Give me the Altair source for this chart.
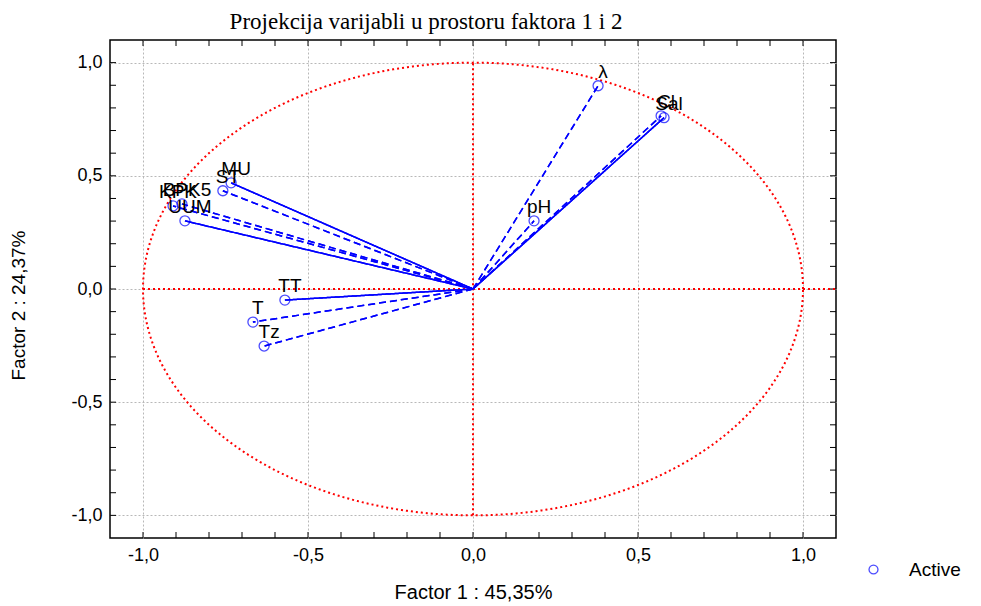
import altair as alt
import numpy as np
import pandas as pd

# ---- data ----
names = ["λ", "Sal", "Cl", "pH", "MU", "ST", "BPK5", "KPK", "UUM", "TT", "T", "Tz"]
factor1 = [0.379, 0.579, 0.570, 0.185, -0.733, -0.758, -0.882, -0.909, -0.873, -0.570, -0.667, -0.633]
factor2 = [0.898, 0.757, 0.765, 0.301, 0.469, 0.434, 0.376, 0.367, 0.301, -0.049, -0.146, -0.252]
line_style = ["dashed", "solid", "dashed", "dashed", "solid", "dashed", "dashed", "dashed", "solid", "solid", "dashed", "dashed"]

title_text = "Projekcija varijabli u prostoru faktora 1 i 2"
x_title = "Factor 1 : 45,35%"
y_title = "Factor 2 : 24,37%"
legend_label = "Active"
major_ticks = [-1.0, -0.5, 0.0, 0.5, 1.0]
minor_ticks = [-1.0, -0.9, -0.8, -0.7, -0.6, -0.5, -0.4, -0.3, -0.2, -0.1, 0.0,
               0.1, 0.2, 0.3, 0.4, 0.5, 0.6, 0.7, 0.8, 0.9, 1.0]

W, H = 726, 498

df = pd.DataFrame({
    "name": names, "f1": factor1, "f2": factor2, "style": line_style,
    "x0": 0.0, "y0": 0.0, "kind": legend_label,
})

# unit correlation circle (geometric reference)
t = np.linspace(0, 2 * np.pi, 721)
circle = pd.DataFrame({"cx": np.cos(t), "cy": np.sin(t), "i": np.arange(len(t))})
hline = pd.DataFrame({"x": [-1.0], "x2": [1.1], "y": [0.0]})
vline = pd.DataFrame({"x": [0.0], "y": [-1.0], "y2": [1.0]})
ticks_df = pd.DataFrame({"v": minor_ticks})

FONT = "Liberation Sans"
xs = alt.Scale(domain=[-1.1, 1.1], nice=False, zero=False)
ys = alt.Scale(domain=[-1.1, 1.1], nice=False, zero=False)
lab = "replace(replace(format(datum.value, '.1f'), '.', ','), '\u2212', '-')"

x_axis = alt.Axis(values=major_ticks, labelExpr=lab, title=x_title, grid=True, ticks=False,
                  domain=False, labelFont=FONT, labelFontSize=18, labelPadding=8,
                  labelColor="black", titleFont=FONT, titleFontSize=20,
                  titleFontWeight="normal", titleColor="black", titlePadding=18,
                  gridColor="#b8b8b8", gridDash=[2, 2], gridWidth=1)
y_axis = alt.Axis(values=major_ticks, labelExpr=lab, title=y_title, grid=True, ticks=False,
                  domain=False, labelFont=FONT, labelFontSize=18, labelPadding=8,
                  labelColor="black", titleFont=FONT, titleFontSize=19,
                  titleFontWeight="normal", titleColor="black", titlePadding=42,
                  titleY=265,
                  gridColor="#b8b8b8", gridDash=[2, 2], gridWidth=1)

vectors = alt.Chart(df).mark_rule(color="#0000ff", strokeWidth=1.5).encode(
    x=alt.X("x0:Q", scale=xs, axis=x_axis),
    x2="f1:Q",
    y=alt.Y("y0:Q", scale=ys, axis=y_axis),
    y2="f2:Q",
    strokeDash=alt.StrokeDash("style:N", scale=alt.Scale(domain=["solid", "dashed"],
                              range=[[1, 0], [7, 4]]), legend=None),
)

# inward tick marks on all four sides of the frame
tick_base = alt.Chart(ticks_df).mark_rule(color="black", strokeWidth=1)
ticks_top = tick_base.encode(x=alt.X("v:Q", scale=xs), y=alt.value(0), y2=alt.value(6))
ticks_bottom = tick_base.encode(x=alt.X("v:Q", scale=xs), y=alt.value(H - 6), y2=alt.value(H))
ticks_left = tick_base.encode(y=alt.Y("v:Q", scale=ys), x=alt.value(0), x2=alt.value(6))
ticks_right = tick_base.encode(y=alt.Y("v:Q", scale=ys), x=alt.value(W - 6), x2=alt.value(W))

ring = alt.Chart(circle).mark_line(color="red", strokeDash=[2, 3], strokeWidth=2).encode(
    x=alt.X("cx:Q", scale=xs), y=alt.Y("cy:Q", scale=ys), order="i:Q")
hrule = alt.Chart(hline).mark_rule(color="red", strokeDash=[2, 3], strokeWidth=2).encode(
    x=alt.X("x:Q", scale=xs), x2="x2:Q", y=alt.Y("y:Q", scale=ys))
vrule = alt.Chart(vline).mark_rule(color="red", strokeDash=[2, 3], strokeWidth=2).encode(
    x=alt.X("x:Q", scale=xs), y=alt.Y("y:Q", scale=ys), y2="y2:Q")

points = alt.Chart(df).mark_point(shape="circle", filled=False, size=100, strokeWidth=1.3).encode(
    x=alt.X("f1:Q", scale=xs),
    y=alt.Y("f2:Q", scale=ys),
    color=alt.Color("kind:N", scale=alt.Scale(domain=[legend_label], range=["#0000ff"]),
                    legend=alt.Legend(title=None, orient="none", legendX=754, legendY=520,
                                      labelFont=FONT, labelFontSize=19, labelColor="black",
                                      symbolType="circle", symbolSize=80, symbolStrokeWidth=1.3,
                                      labelOffset=26, padding=0)),
)

labels = alt.Chart(df).mark_text(align="center", baseline="alphabetic", dx=5, dy=-8,
                                 font=FONT, fontSize=19, color="black").encode(
    x=alt.X("f1:Q", scale=xs), y=alt.Y("f2:Q", scale=ys), text="name:N")

chart = alt.layer(
    vectors, ticks_top, ticks_bottom, ticks_left, ticks_right,
    ring, hrule, vrule, vectors, points, labels,
).properties(
    width=W, height=H,
    title=alt.TitleParams(title_text, font="Liberation Serif", fontSize=23, fontWeight="normal",
                          color="black", anchor="middle", dx=-47, offset=6),
    autosize=alt.AutoSizeParams(type="none"),
    padding={"left": 102, "top": 32, "right": 137, "bottom": 66},
).configure_view(stroke="black", strokeWidth=1.5)

chart.save("out.html", embed_options={"renderer": "svg", "actions": False})
